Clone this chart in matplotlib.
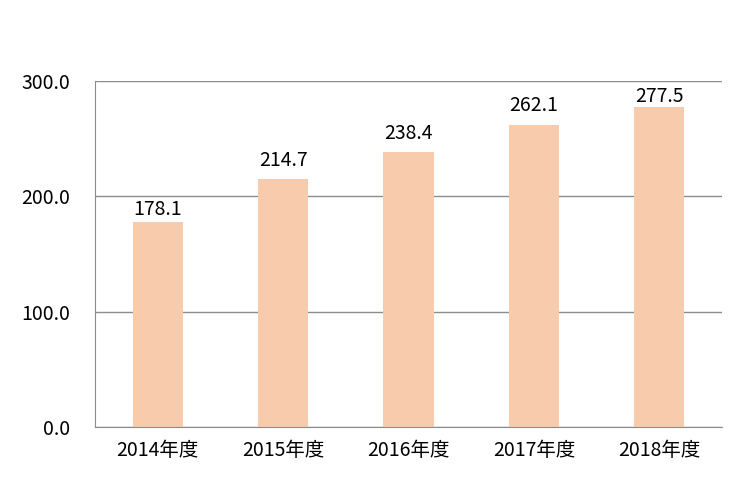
import matplotlib
matplotlib.use("Agg")
import matplotlib.pyplot as plt

plt.rcParams['font.family'] = ['Noto Sans CJK JP', 'DejaVu Sans']

years = ["2014年度", "2015年度", "2016年度", "2017年度", "2018年度"]
values = [178.1, 214.7, 238.4, 262.1, 277.5]
# distance (in points) between bar top and its label, as in the original
label_gap = [1, 6, 6, 6, 0]

fig = plt.figure(figsize=(7.5, 4.84), dpi=100)
ax = fig.add_axes([95 / 750, 1 - 427 / 484, 627 / 750, 346 / 484])

x = range(len(years))
ax.bar(x, values, width=0.4, color="#F8CBAD", zorder=2)

for i, v in enumerate(values):
    ax.annotate(f"{v:.1f}", xy=(i, v), xytext=(0, label_gap[i]),
                textcoords="offset points", ha="center", va="bottom",
                fontsize=14, color="black")

ax.set_xlim(-0.5, len(years) - 0.5)
ax.set_ylim(0, 300)
ax.set_yticks([0, 100, 200, 300])
ax.set_yticklabels([f"{t:.1f}" for t in [0, 100, 200, 300]], fontsize=14)
ax.set_xticks(list(x))
ax.set_xticklabels(years, fontsize=14)
ax.tick_params(length=0, pad=9)
ax.tick_params(axis="y", pad=18)

ax.yaxis.grid(True, color="#8c8c8c", linewidth=1, zorder=0)
for s in ["top", "right"]:
    ax.spines[s].set_visible(False)
ax.spines["left"].set_color("#8c8c8c")
ax.spines["bottom"].set_color("#8c8c8c")

fig.savefig("out.png", dpi=100)
